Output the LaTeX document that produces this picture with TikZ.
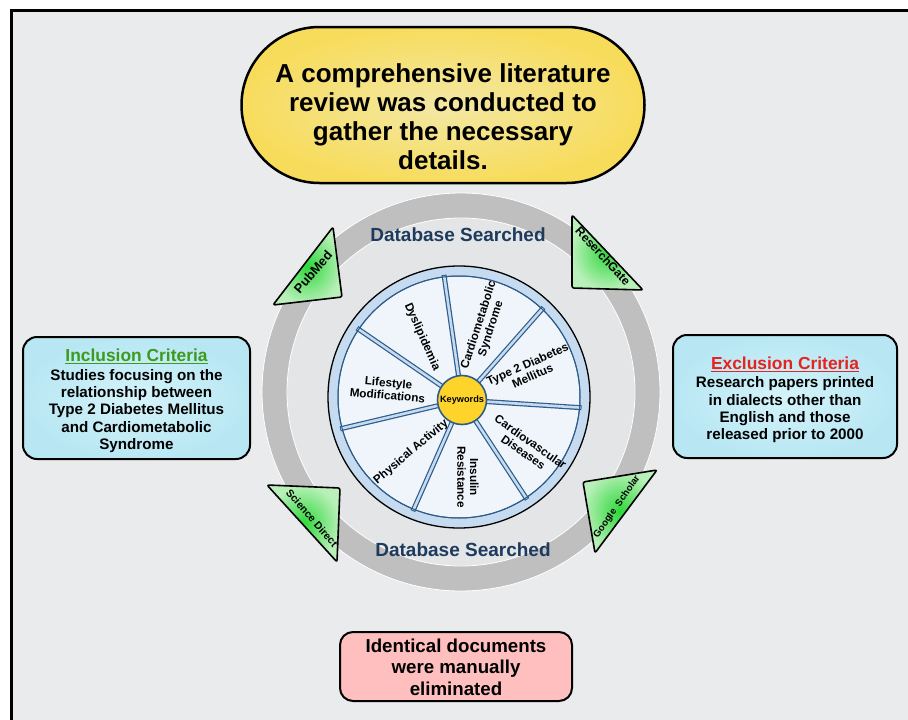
\documentclass[tikz,border=0pt]{standalone}
\usepackage{fontspec}
\usetikzlibrary{calc}
\setmainfont{Liberation Sans}
\definecolor{bgframe}{HTML}{EAEBED}
\definecolor{ringgray}{HTML}{BFBFBF}
\definecolor{innergray}{HTML}{E4E5E7}
\definecolor{wband}{HTML}{C6DBEF}
\definecolor{wfill}{HTML}{EFF5FB}
\definecolor{wblue}{HTML}{2D5C8A}
\definecolor{kwyellow}{HTML}{FFD42A}
\definecolor{yout}{HTML}{F7DC5C}
\definecolor{yin}{HTML}{F3E8A5}
\definecolor{gin}{HTML}{2ED83A}
\definecolor{gout}{HTML}{B9F0B9}
\definecolor{cin}{HTML}{D4F3FA}
\definecolor{cout}{HTML}{B8E7F3}
\definecolor{pinkbox}{HTML}{FFBFBF}
\definecolor{incgreen}{HTML}{3C9A1C}
\definecolor{excred}{HTML}{E8221E}
\definecolor{navy}{HTML}{1E3A5C}
\begin{document}
\begin{tikzpicture}[x=1pt,y=-1pt,
  lab/.style={font=\bfseries\fontsize{11.7}{12.7}\selectfont, align=center, inner sep=0pt},
  tlab/.style={font=\bfseries\fontsize{12}{13}\selectfont, inner sep=0pt},
  tri/.style={draw=black, line width=1.6pt, rounded corners=2pt, line join=round, inner color=gin, outer color=gout},
  critbox/.style={draw=black, line width=2pt, rounded corners=14pt, inner color=cin, outer color=cout, minimum height=122pt, align=center},
  dbtext/.style={font=\bfseries\fontsize{19}{22}\selectfont, text=navy, inner sep=0pt},
  spoke/.style={wblue, line width=5pt},
  spokein/.style={wband, line width=2.6pt}]
\useasboundingbox (0,0) rectangle (908,720);
\clip (0,0) rectangle (908,720);
\fill[white] (0,0) rectangle (908,720);
\draw[line width=3pt, fill=bgframe] (11,10) rectangle (940,760);

% ring
\fill[innergray] (461,392) circle (174);
\fill[ringgray, even odd rule] (461,392) circle (199) (461,392) circle (174);
\draw[white, line width=0.8pt] (461,392) circle (199);
\draw[white, line width=0.8pt] (461,392) circle (174);

\node[dbtext] (dbtop) at (458,235) {Database Searched};
\node[dbtext] (dbbot) at (463,550) {Database Searched};

% wheel
\coordinate (wc) at (459,397);
\coordinate (kc) at (462,400);
\draw[black, line width=1.3pt, fill=wband] (wc) circle (131);
\draw[wblue, line width=1pt, fill=wfill] (wc) circle (121);
\foreach \a in {-97, -46.6, 5, 56.4, 112, 165, -146}{
  \draw[spoke] (kc) -- ($(wc)+(\a:123)$);
}
\foreach \a in {-97, -46.6, 5, 56.4, 112, 165, -146}{
  \draw[spokein] (kc) -- ($(wc)+(\a:122)$);
}
\draw[wblue, line width=1pt] (wc) circle (121);
\node[circle, draw=wblue, line width=1.6pt, fill=kwyellow, minimum size=49pt, inner sep=0pt,
  font=\bfseries\fontsize{9.2}{10}\selectfont] (kw) at (kc) {Keywords};

\node[lab, rotate=-66] (k1) at (422,337) {Dyslipidemia};
\node[lab, rotate=72] (k2) at (485,327) {Cardiometabolic\\Syndrome};
\node[lab, rotate=24] (k3) at (530,370) {Type 2 Diabetes\\Mellitus};
\node[lab, rotate=-35] (k4) at (527,447) {Cardiovascular\\Diseases};
\node[lab, rotate=-90] (k5) at (468,477) {Insulin\\Resistance};
\node[lab, rotate=40] (k6) at (411,452) {Physical Activity};
\node[lab, rotate=-5] (k7) at (388,389) {Lifestyle\\Modifications};

% triangles
\draw[tri] (273,305) -- (333,227) -- (342,297) -- cycle;
\node[tlab, font=\bfseries\fontsize{13}{14}\selectfont, rotate=49] (pm) at (313,272) {PubMed};
\draw[tri] (572,215) -- (572,288) -- (643,290) -- cycle;
\node[tlab, rotate=-47] (rg) at (603,256) {ReserchGate};
\draw[tri] (267,485) -- (340,488) -- (337,562) -- cycle;
\node[tlab, font=\bfseries\fontsize{10.5}{12}\selectfont, rotate=-49] (sd) at (312,518) {Science Direct};
\draw[tri] (583,482) -- (657,470) -- (595,553) -- cycle;
\node[tlab, font=\bfseries\fontsize{9.6}{11}\selectfont, rotate=55] (gs) at (617,507) {Google\ \ Scholar};

% top stadium
\node[draw=black, line width=2.5pt, rounded corners=78pt, minimum width=403pt, minimum height=156pt,
  inner color=yin, outer color=yout] (top) at (443,105) {};
\node[font=\bfseries\fontsize{26}{29}\selectfont, align=center, inner sep=0pt] (toptext) at (443,117)
  {A comprehensive literature\\review was conducted to\\gather the necessary\\details.};

% inclusion
\node[critbox, minimum width=227pt] (inc) at (136.5,398) {};
\node[align=center, inner sep=0pt, font=\bfseries\fontsize{15.2}{17.3}\selectfont] (inctext) at (136.5,401)
  {{\fontsize{17.4}{19}\selectfont\color{incgreen}\underline{Inclusion Criteria}}\\[1pt]
   Studies focusing on the\\relationship between\\Type 2 Diabetes Mellitus\\and Cardiometabolic\\Syndrome};

% exclusion
\node[critbox, minimum width=224pt, minimum height=123pt] (exc) at (785,396.5) {};
\node[align=center, inner sep=0pt, font=\bfseries\fontsize{15.2}{17.3}\selectfont] (exctext) at (785,400)
  {{\fontsize{17.4}{19}\selectfont\color{excred}\underline{Exclusion Criteria}}\\[1pt]
   Research papers printed\\in dialects other than\\English and those\\released prior to 2000};

% bottom
\node[draw=black, line width=2pt, rounded corners=13pt, fill=pinkbox, minimum width=232pt, minimum height=69pt] (dup) at (456,666.5) {};
\node[align=center, inner sep=0pt, font=\bfseries\fontsize{18.7}{21.5}\selectfont] (duptext) at (456,667)
  {Identical documents\\were manually\\eliminated};
\end{tikzpicture}
\end{document}
